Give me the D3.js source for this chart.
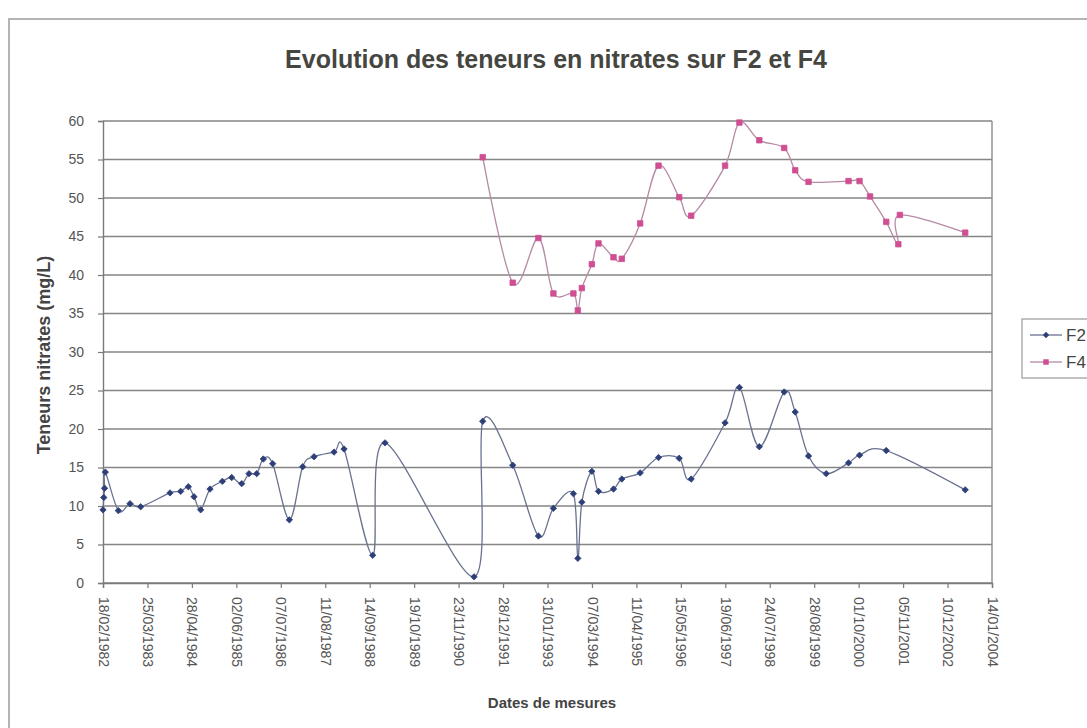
<!DOCTYPE html>
<html>
<head>
<meta charset="utf-8">
<script src="https://cdn.jsdelivr.net/npm/d3@7"></script>
<style>
  html, body { margin: 0; padding: 0; background: #ffffff; }
  svg { display: block; font-family: "Liberation Sans", Arial, sans-serif; }
</style>
</head>
<body>
<svg id="chart" width="1087" height="728"></svg>
<script>
// ---------- data ----------
const chartTitle = "Evolution des teneurs en nitrates sur F2 et F4";
const xTitle = "Dates de mesures";
const yTitle = "Teneurs nitrates (mg/L)";
const seriesNames = ["F2", "F4"];

const f2Dates = [
  "18/02/1982", "25/02/1982", "04/03/1982", "11/03/1982", "06/07/1982", "19/10/1982",
  "23/01/1983", "14/10/1983", "18/01/1984", "27/03/1984", "17/05/1984", "16/07/1984",
  "08/10/1984", "27/01/1985", "21/04/1985", "20/07/1985", "24/09/1985", "02/12/1985",
  "31/01/1986", "25/04/1986", "22/09/1986", "20/01/1987", "02/05/1987", "29/10/1987",
  "27/01/1988", "11/10/1988", "30/01/1989", "11/04/1991", "28/06/1991", "24/03/1992",
  "10/11/1992", "25/03/1993", "21/09/1993", "31/10/1993", "06/12/1993", "06/03/1994",
  "05/05/1994", "17/09/1994", "01/12/1994", "15/05/1995", "27/10/1995", "30/04/1996",
  "16/08/1996", "17/06/1997", "24/10/1997", "21/04/1998", "01/12/1998", "10/03/1999",
  "08/07/1999", "14/12/1999", "02/07/2000", "09/10/2000", "06/06/2001", "18/05/2003"
];
const f2Values = [
  9.5, 11.1, 12.3, 14.4, 9.4, 10.3,
  9.9, 11.7, 11.9, 12.5, 11.2, 9.5,
  12.2, 13.2, 13.7, 12.9, 14.2, 14.2,
  16.1, 15.5, 8.2, 15.1, 16.4, 17.0,
  17.4, 3.6, 18.2, 0.8, 21.0, 15.3,
  6.1, 9.7, 11.6, 3.2, 10.5, 14.5,
  11.9, 12.2, 13.5, 14.3, 16.3, 16.2,
  13.5, 20.8, 25.4, 17.7, 24.8, 22.2,
  16.5, 14.2, 15.6, 16.6, 17.2, 12.1
];

const f4Dates = [
  "28/06/1991", "24/03/1992", "10/11/1992", "25/03/1993", "21/09/1993", "31/10/1993",
  "06/12/1993", "06/03/1994", "05/05/1994", "17/09/1994", "01/12/1994", "15/05/1995",
  "27/10/1995", "30/04/1996", "16/08/1996", "17/06/1997", "24/10/1997", "21/04/1998",
  "01/12/1998", "10/03/1999", "08/07/1999", "02/07/2000", "09/10/2000", "12/01/2001",
  "06/06/2001", "23/09/2001", "07/10/2001", "18/05/2003"
];
const f4Values = [
  55.3, 39.0, 44.8, 37.6, 37.6, 35.4,
  38.3, 41.4, 44.1, 42.3, 42.1, 46.7,
  54.2, 50.1, 47.7, 54.2, 59.8, 57.5,
  56.5, 53.6, 52.1, 52.2, 52.2, 50.2,
  46.9, 44.0, 47.8, 45.5
];

const yTicks = [0, 5, 10, 15, 20, 25, 30, 35, 40, 45, 50, 55, 60];
const xTickLabels = [
  "18/02/1982", "25/03/1983", "28/04/1984", "02/06/1985", "07/07/1986", "11/08/1987",
  "14/09/1988", "19/10/1989", "23/11/1990", "28/12/1991", "31/01/1993", "07/03/1994",
  "11/04/1995", "15/05/1996", "19/06/1997", "24/07/1998", "28/08/1999", "01/10/2000",
  "05/11/2001", "10/12/2002", "14/01/2004"
];

// ---------- layout ----------
const svg = d3.select("#chart");
const parse = d3.utcParse("%d/%m/%Y");
const fmt = d3.utcFormat("%d/%m/%Y");
const plot = { left: 103, right: 992, top: 121, bottom: 583 };

const x = d3.scaleUtc()
  .domain([parse(xTickLabels[0]), parse(xTickLabels[xTickLabels.length - 1])])
  .range([plot.left, plot.right]);
const y = d3.scaleLinear().domain([0, 60]).range([plot.bottom, plot.top]);

// background + outer chart border (cut by the page edges)
svg.append("rect").attr("x", 0).attr("y", 0).attr("width", 1087).attr("height", 728).attr("fill", "#ffffff");
svg.append("rect").attr("x", 9).attr("y", 19).attr("width", 1200).attr("height", 800)
  .attr("fill", "none").attr("stroke", "#b4b4b4").attr("stroke-width", 2);

// gridlines
svg.append("g").selectAll("line").data(yTicks).join("line")
  .attr("x1", plot.left).attr("x2", plot.right)
  .attr("y1", d => y(d)).attr("y2", d => y(d))
  .attr("stroke", "#858585").attr("stroke-width", 1.5);

// plot area right border
svg.append("line").attr("x1", plot.right).attr("x2", plot.right)
  .attr("y1", plot.top).attr("y2", plot.bottom)
  .attr("stroke", "#8c8c8c").attr("stroke-width", 1.4);

// axes
const yAxis = svg.append("g").attr("transform", `translate(${plot.left},0)`)
  .call(d3.axisLeft(y).tickValues(yTicks).tickSize(5).tickPadding(14).tickFormat(d3.format("d")));
const xAxis = svg.append("g").attr("transform", `translate(0,${plot.bottom})`)
  .call(d3.axisBottom(x).tickValues(xTickLabels.map(parse)).tickSize(5).tickFormat(fmt));

[yAxis, xAxis].forEach(g => {
  g.select(".domain").attr("stroke", "#7a7a7a").attr("stroke-width", 1.4);
  g.selectAll(".tick line").attr("stroke", "#7a7a7a").attr("stroke-width", 1.2);
  g.selectAll("text").attr("fill", "#555").style("font-size", "14px").style("font-family", "'Liberation Sans', Arial, sans-serif");
});
xAxis.selectAll(".tick text")
  .attr("transform", "rotate(90)")
  .attr("x", 14).attr("y", 0).attr("dy", "0.35em")
  .style("text-anchor", "start");

// series
const curve = d3.curveCardinal.tension(0);
const f2 = f2Dates.map((d, i) => ({ date: parse(d), value: f2Values[i] }));
const f4 = f4Dates.map((d, i) => ({ date: parse(d), value: f4Values[i] }));
const line = d3.line().x(d => x(d.date)).y(d => y(d.value)).curve(curve);

const series = [
  { name: seriesNames[0], data: f2, line: "#6a7290", marker: "#2e3f78", symbol: d3.symbolDiamond2, size: 26 },
  { name: seriesNames[1], data: f4, line: "#b58aa4", marker: "#cf4f92", symbol: d3.symbolSquare, size: 30 }
];

series.forEach(s => {
  svg.append("path").datum(s.data).attr("d", line)
    .attr("fill", "none").attr("stroke", s.line).attr("stroke-width", 1.3);
  svg.append("g").selectAll("path").data(s.data).join("path")
    .attr("transform", d => `translate(${x(d.date)},${y(d.value)})`)
    .attr("d", d3.symbol().type(s.symbol).size(s.size))
    .attr("fill", s.marker).attr("stroke", s.marker).attr("stroke-width", 0.8);
});

// titles
svg.append("text").attr("x", 556).attr("y", 68).attr("text-anchor", "middle")
  .attr("fill", "#45463f").style("font-size", "25px").style("font-weight", "bold")
  .text(chartTitle);
svg.append("text").attr("x", 552).attr("y", 708).attr("text-anchor", "middle")
  .attr("fill", "#444").style("font-size", "15px").style("font-weight", "bold")
  .text(xTitle);
svg.append("text").attr("transform", "translate(50,355) rotate(-90)").attr("text-anchor", "middle")
  .attr("fill", "#444").style("font-size", "18px").style("font-weight", "bold")
  .text(yTitle);

// legend
const lg = svg.append("g").attr("transform", "translate(1022,319)");
lg.append("rect").attr("width", 120).attr("height", 59)
  .attr("fill", "#fff").attr("stroke", "#9a9a9a").attr("stroke-width", 1.2);
series.forEach((s, i) => {
  const yy = 16 + i * 27;
  lg.append("line").attr("x1", 8).attr("x2", 40).attr("y1", yy).attr("y2", yy)
    .attr("stroke", s.line).attr("stroke-width", 1.3);
  lg.append("path").attr("transform", `translate(24,${yy})`)
    .attr("d", d3.symbol().type(s.symbol).size(s.size)).attr("fill", s.marker);
  lg.append("text").attr("x", 44).attr("y", yy + 6).attr("fill", "#444")
    .style("font-size", "17px").text(s.name);
});
</script>
</body>
</html>
